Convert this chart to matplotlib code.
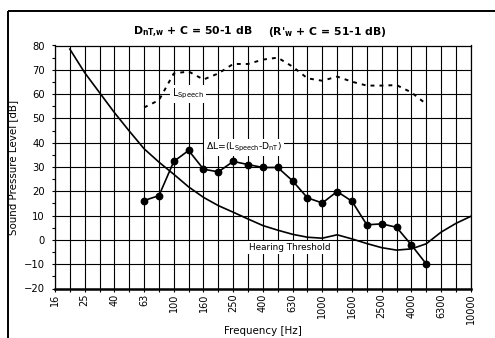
import matplotlib
matplotlib.use("Agg")
import matplotlib.pyplot as plt
from matplotlib.lines import Line2D
import numpy as np

bands = ['16', '20', '25', '31.5', '40', '50', '63', '80', '100', '125', '160',
         '200', '250', '315', '400', '500', '630', '800', '1000', '1250', '1600',
         '2000', '2500', '3150', '4000', '5000', '6300', '8000', '10000']

# Hearing threshold, 20 Hz .. 10000 Hz
threshold_bands = bands[1:]
threshold = [78.5, 68.8, 60.6, 52.4, 44.8, 37.5, 32.0, 27.0, 21.8, 17.5, 14.1,
             11.4, 8.6, 5.9, 4.0, 2.3, 1.1, 0.7, 2.1, 0.4, -1.5, -3.2, -4.2,
             -3.7, -1.6, 3.2, 6.8, 9.7]

# Speech level and delta L, 63 Hz .. 5000 Hz
speech_bands = bands[6:26]
speech = [54.5, 57.5, 68.5, 69.3, 66.0, 68.5, 72.4, 72.4, 74.2, 75.0, 71.3,
          66.5, 65.5, 67.2, 65.1, 63.5, 63.5, 63.7, 60.7, 55.9]
delta_l = [16.2, 18.2, 32.3, 36.8, 29.1, 28.0, 32.3, 31.0, 29.8, 29.8, 24.3,
           17.3, 15.2, 19.9, 15.9, 6.2, 6.6, 5.2, -2.1, -9.9]

plt.rcParams['font.family'] = ['DejaVu Sans']
plt.rcParams['mathtext.default'] = 'regular'

W, H = 495, 338
fig = plt.figure(figsize=(W / 100, H / 100), dpi=100)
fig.patch.set_facecolor('white')

x0, x1 = 55, 470.8
y0, y1 = 45.5, 288.5
ax = fig.add_axes([x0 / W, 1 - y1 / H, (x1 - x0) / W, (y1 - y0) / H])

pos = {b: i for i, b in enumerate(bands)}
xt = [pos[b] for b in threshold_bands]
xs = [pos[b] for b in speech_bands]

ax.set_xlim(0, len(bands) - 1)
ax.set_ylim(-20, 80)

ax.set_xticks(range(len(bands)))
ax.set_xticklabels([b if i % 2 == 0 else '' for i, b in enumerate(bands)],
                   rotation=90, fontsize=7)
ax.set_yticks(np.arange(-20, 81, 10))
ax.set_yticks(np.arange(-15, 80, 10), minor=True)
ax.tick_params(axis='y', which='major', labelsize=7.2, length=2.5, width=0.8,
               pad=5, direction='out')
ax.tick_params(axis='y', which='minor', length=2, width=0.8, direction='out')
ax.tick_params(axis='x', which='major', length=2.5, width=0.8, pad=1,
               direction='out')

ax.grid(True, which='major', color='black', linewidth=0.8)
ax.set_axisbelow(True)
for s in ['left', 'top', 'right']:
    ax.spines[s].set_linewidth(0.9)
ax.spines['bottom'].set_linewidth(1.8)

ax.plot(xt, threshold, color='black', linewidth=1.2, zorder=3)
ax.plot(xs, speech, color='black', linewidth=1.4, linestyle=(0, (2, 2.6)),
        zorder=3)
ax.plot(xs, delta_l, color='black', linewidth=1.2, marker='o', markersize=4.6,
        zorder=4)

bbox = dict(facecolor='white', edgecolor='none', pad=1.5)
ax.text(7.85, 60.0, r'L$_{Speech}$', fontsize=7, ha='left', va='center',
        bbox=bbox, zorder=5)
ax.text(12.75, 38.1, r'$\Delta$L=(L$_{Speech}$-D$_{nT}$)', fontsize=6.7,
        ha='center', va='center', bbox=bbox, zorder=5)
ax.text(15.8, -3.3, 'Hearing Threshold', fontsize=6.4, ha='center',
        va='center', bbox=bbox, zorder=5)

ax.set_xlabel('Frequency [Hz]', fontsize=7.4, labelpad=1.5)
ax.set_ylabel('Sound Pressure Level [dB]', fontsize=7.4, labelpad=4)

fig.text(132.7 / W, 1 - 32 / H, r'D$_{nT{,}w}$ + C = 50-1 dB', fontsize=7.8,
         fontweight='bold', ha='left', va='center')
fig.text(268 / W, 1 - 32 / H, r"(R'$_{w}$ + C = 51-1 dB)", fontsize=7.8,
         fontweight='bold', ha='left', va='center')

# outer frame (left and top edges visible; cropped at right and bottom)
fx, fy = 7.5 / W, 1 - 10.5 / H
fig.lines.append(Line2D([fx, fx], [-0.05, fy], transform=fig.transFigure,
                        color='black', linewidth=1.4, solid_capstyle='butt'))
fig.lines.append(Line2D([fx, 1.05], [fy, fy], transform=fig.transFigure,
                        color='black', linewidth=1.4, solid_capstyle='butt'))

fig.savefig('out.png', dpi=100, facecolor='white')
